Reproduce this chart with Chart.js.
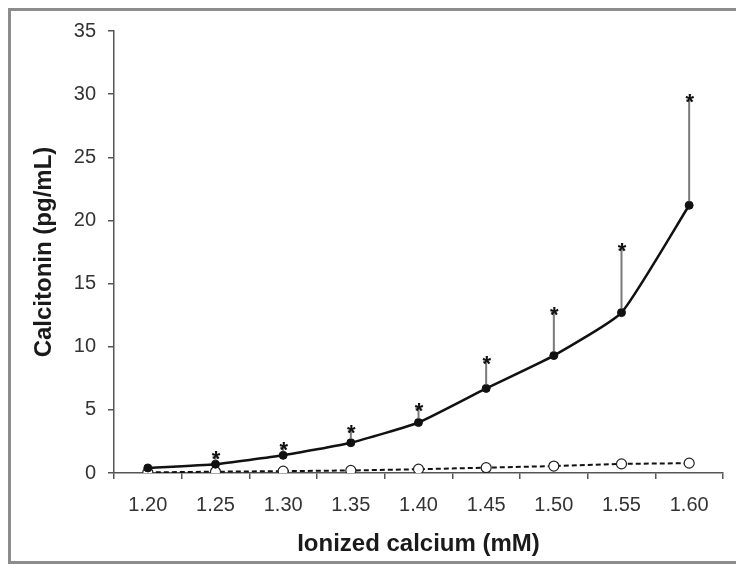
<!DOCTYPE html>
<html>
<head>
<meta charset="utf-8">
<script src="https://cdn.jsdelivr.net/npm/chart.js@4.4.1/dist/chart.umd.min.js"></script>
<style>
  html, body { margin: 0; padding: 0; background: #fff; }
  #wrap { width: 736px; height: 566px; position: relative; }
</style>
</head>
<body>
<div id="wrap"><canvas id="c" width="736" height="566"></canvas></div>
<script>
// ---- data ----
const categories = ['1.20', '1.25', '1.30', '1.35', '1.40', '1.45', '1.50', '1.55', '1.60'];
const calcitoninHigh = [0.4, 0.7, 1.4, 2.4, 4.0, 6.7, 9.3, 12.7, 21.2];   // filled circles, solid line
const calcitoninHighSD = [0, 0.55, 0.6, 0.9, 1.1, 2.1, 3.4, 5.0, 8.3];    // upper error bars
const significant = [false, true, true, true, true, true, true, true, true];
const calcitoninLow = [0.05, 0.1, 0.15, 0.2, 0.3, 0.42, 0.55, 0.72, 0.78]; // open circles, dashed line
const yTicks = [0, 5, 10, 15, 20, 25, 30, 35];

const FONT = "'Liberation Sans', Arial, sans-serif";

const framePlugin = {
  id: 'frame',
  beforeDraw(chart) {
    const ctx = chart.ctx;
    ctx.save();
    ctx.fillStyle = '#ffffff';
    ctx.fillRect(0, 0, chart.width, chart.height);
    ctx.strokeStyle = '#8c8c8c';
    ctx.lineWidth = 3;
    ctx.beginPath();
    ctx.moveTo(736, 9.5);
    ctx.lineTo(9.5, 9.5);
    ctx.lineTo(9.5, 562.5);
    ctx.lineTo(736, 562.5);
    ctx.stroke();
    ctx.restore();
  }
};

const errorPlugin = {
  id: 'errorBars',
  afterDatasetsDraw(chart) {
    const ctx = chart.ctx;
    const xs = chart.scales.x, ys = chart.scales.y;
    ctx.save();
    for (let i = 0; i < categories.length; i++) {
      const x = xs.getPixelForValue(i);
      const y0 = ys.getPixelForValue(calcitoninHigh[i]);
      const top = calcitoninHigh[i] + calcitoninHighSD[i];
      const y1 = ys.getPixelForValue(top);
      if (calcitoninHighSD[i] > 0) {
        ctx.strokeStyle = '#7a7a7a';
        ctx.lineWidth = 2;
        ctx.beginPath();
        ctx.moveTo(x, y0 - 4);
        ctx.lineTo(x, y1);
        ctx.moveTo(x - 3, y1);
        ctx.lineTo(x + 3, y1);
        ctx.stroke();
      }
      if (significant[i]) {
        ctx.fillStyle = '#111';
        ctx.font = 'bold 22px ' + FONT;
        ctx.textAlign = 'center';
        ctx.textBaseline = 'alphabetic';
        ctx.fillText('*', x + 0.5, y1 + 9);
      }
    }
    ctx.restore();
  }
};

new Chart(document.getElementById('c'), {
  type: 'line',
  data: {
    labels: categories,
    datasets: [
      {
        data: calcitoninHigh,
        borderColor: '#111',
        borderWidth: 2.5,
        backgroundColor: '#111',
        pointBackgroundColor: '#111',
        pointBorderColor: '#111',
        pointRadius: 4,
        pointBorderWidth: 1,
        tension: 0.15,
        fill: false
      },
      {
        data: calcitoninLow,
        borderColor: '#111',
        borderWidth: 2,
        borderDash: [5, 3],
        pointBackgroundColor: '#fff',
        pointBorderColor: '#222',
        pointBorderWidth: 1.2,
        pointRadius: 5,
        fill: false
      }
    ]
  },
  options: {
    responsive: false,
    animation: false,
    devicePixelRatio: 1,
    layout: { padding: { left: 0, top: 31, right: 13, bottom: 0 } },
    plugins: { legend: { display: false }, tooltip: { enabled: false } },
    scales: {
      x: {
        type: 'category',
        offset: true,
        grid: { offset: true, drawOnChartArea: false, drawTicks: true, tickLength: 6, color: '#555', lineWidth: 1.5 },
        border: { color: '#555', width: 1.5 },
        ticks: { color: '#333', font: { family: FONT, size: 20 }, padding: 14, maxRotation: 0 },
        title: { display: true, text: 'Ionized calcium (mM)', color: '#1a1a1a', font: { family: FONT, size: 24, weight: 'bold' }, padding: { top: 0, bottom: 7 } },
        afterFit(s) { s.height = 93; }
      },
      y: {
        min: 0, max: 35,
        afterBuildTicks(s) { s.ticks = yTicks.map(v => ({ value: v })); },
        grid: { drawOnChartArea: false, drawTicks: true, tickLength: 6, color: '#555', lineWidth: 1.5 },
        border: { color: '#555', width: 1.5 },
        ticks: { color: '#333', font: { family: FONT, size: 20 }, padding: 12 },
        title: { display: true, text: 'Calcitonin (pg/mL)', color: '#1a1a1a', font: { family: FONT, size: 24, weight: 'bold' }, padding: { top: 30, bottom: 0 } },
        afterFit(s) { s.width = 114; }
      }
    }
  },
  plugins: [framePlugin, errorPlugin]
});
</script>
</body>
</html>
